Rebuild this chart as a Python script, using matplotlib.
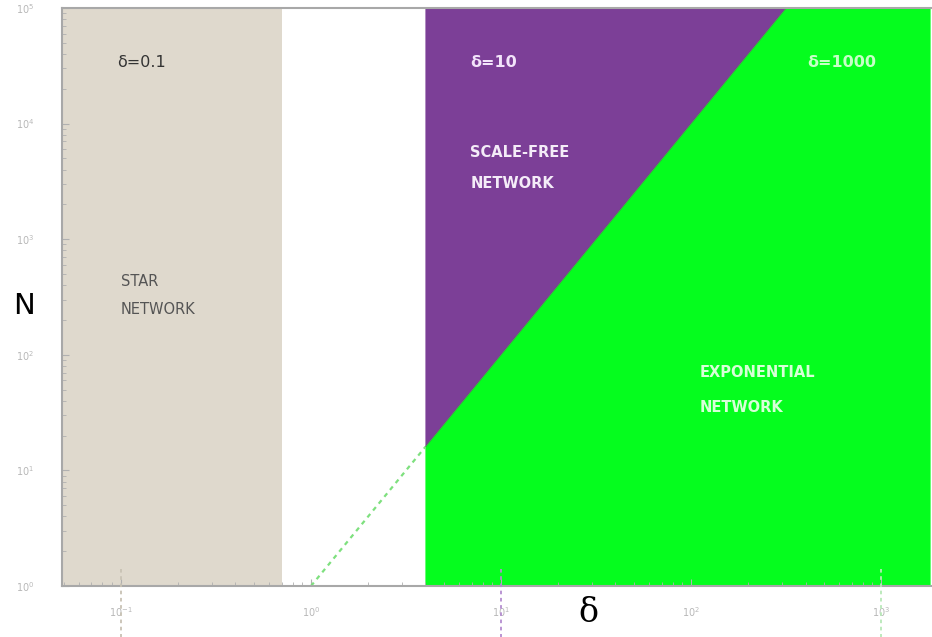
import matplotlib.pyplot as plt
import matplotlib.transforms as mtransforms

# phase regions in (delta, N) space
delta_lim = [10 ** -1.31, 10 ** 3.26]
n_lim = [1, 1e5]
star_delta = [delta_lim[0], 0.7]          # star network strip
onset_delta = 4.0                          # where scale-free / exponential start
boundary_exp = 2.0                         # N = delta ** boundary_exp
marked_delta = [0.1, 10, 1000]
marked_labels = ['δ=0.1', 'δ=10', 'δ=1000']

beige = '#dfd9cd'
purple = '#7c3f97'
green = '#05fd1e'

fig = plt.figure(figsize=(9.32, 6.37), dpi=100)
ax = fig.add_axes([0.0665, 0.080, 0.932, 0.9075])
ax.set_xscale('log')
ax.set_yscale('log')
ax.set_xlim(delta_lim)
ax.set_ylim(n_lim)

# star region
ax.axvspan(star_delta[0], star_delta[1], color=beige, lw=0, zorder=0)

# boundary N = delta^a, straight on log-log axes
n_on = onset_delta ** boundary_exp
d_top = n_lim[1] ** (1 / boundary_exp)
ax.fill([onset_delta, d_top, onset_delta], [n_on, n_lim[1], n_lim[1]],
        color=purple, lw=0, zorder=1)
ax.fill([onset_delta, delta_lim[1], delta_lim[1], d_top, onset_delta],
        [n_lim[0], n_lim[0], n_lim[1], n_lim[1], n_on],
        color=green, lw=0, zorder=1)
ax.plot([onset_delta, d_top], [n_on, n_lim[1]], color='#4a6a4a', lw=0.8,
        alpha=0.6, zorder=2)
ax.plot([1, onset_delta], [1, n_on], color='#7ee07e', lw=1.6,
        ls=(0, (2, 2)), zorder=2)

# dashed markers under the axis
trans = mtransforms.blended_transform_factory(ax.transData, ax.transAxes)
for d, c in zip(marked_delta, ['#c8c2b4', '#b48cd0', '#b8e8b8']):
    ax.plot([d, d], [0.03, -0.1], color=c, lw=1.3, ls=(0, (2, 2)),
            transform=trans, clip_on=False, zorder=3)

# labels
ax.text(0.096, 10 ** 4.53, marked_labels[0], color='#333333', fontsize=11.5,
        va='center', ha='left')
ax.text(6.9, 10 ** 4.53, marked_labels[1], color='#f2e4fa', fontsize=11.5,
        va='center', ha='left', fontweight='bold')
ax.text(410, 10 ** 4.53, marked_labels[2], color='#c8ffc8', fontsize=11.5,
        va='center', ha='left', fontweight='bold')

region_text = dict(fontsize=10.5, va='center', ha='left')
ax.text(0.1, 10 ** 2.63, 'STAR', color='#555555', **region_text)
ax.text(0.1, 10 ** 2.39, 'NETWORK', color='#555555', **region_text)
ax.text(6.9, 10 ** 3.754, 'SCALE-FREE', color='#f4ecf8', fontweight='bold',
        **region_text)
ax.text(6.9, 10 ** 3.486, 'NETWORK', color='#f4ecf8', fontweight='bold',
        **region_text)
ax.text(111, 10 ** 1.843, 'EXPONENTIAL', color='#d8ffd8', fontweight='bold',
        **region_text)
ax.text(111, 10 ** 1.54, 'NETWORK', color='#d8ffd8', fontweight='bold',
        **region_text)

# axis names
fig.text(0.026, 0.52, 'N', fontsize=21, ha='center', va='center')
fig.text(0.631, 0.038, 'δ', fontsize=24, family='DejaVu Serif',
         ha='center', va='center')

for s in ax.spines.values():
    s.set_color('#a8a8a8')
    s.set_linewidth(1.5)
ax.spines['right'].set_visible(False)
ax.tick_params(which='both', direction='in', colors='#b0b0b0', labelsize=7,
               labelcolor='#b8b8b8')
ax.tick_params(axis='y', pad=20)
ax.tick_params(axis='x', pad=14)
ax.tick_params(which='major', length=5)
ax.tick_params(which='minor', length=3)

fig.savefig('out.png', dpi=100)
